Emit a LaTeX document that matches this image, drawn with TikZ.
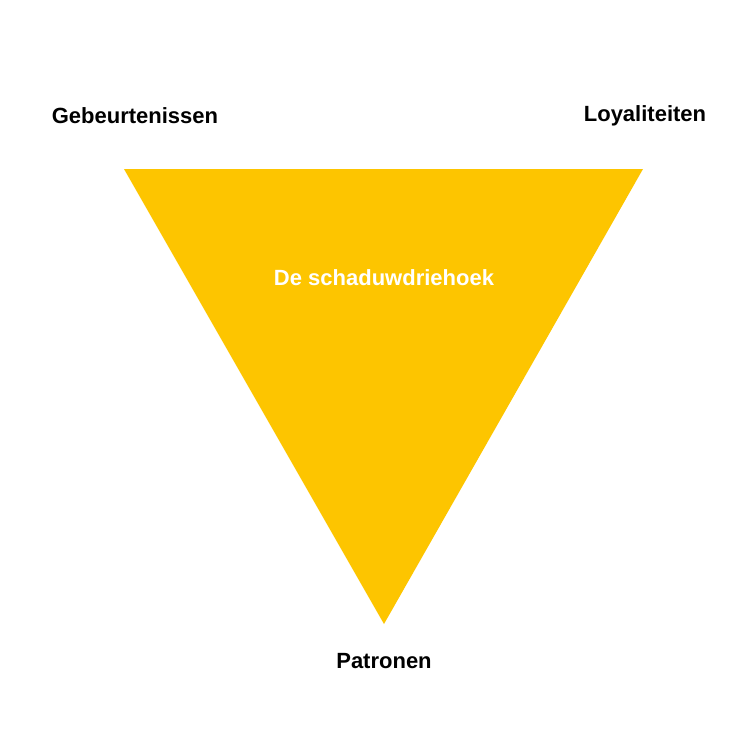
\documentclass[tikz,border=0pt]{standalone}
\usepackage{fontspec}
\setmainfont{Liberation Sans}
\definecolor{tri}{HTML}{FDC500}
\begin{document}
\begin{tikzpicture}[x=1pt,y=-1pt,lbl/.style={font=\bfseries\fontsize{22}{26}\selectfont,inner sep=0pt}]
\useasboundingbox[fill=white] (0,0) rectangle (756,756);
\fill[tri] (124,169) -- (643,169) -- (384,624) -- cycle;
\node[lbl] (g) at (135,116) {Gebeurtenissen};
\node[lbl] (l) at (645,116) {Loyaliteiten};
\node[lbl] (p) at (384,661) {Patronen};
\node[lbl,text=white] (d) at (384,278) {De schaduwdriehoek};
\end{tikzpicture}
\end{document}
